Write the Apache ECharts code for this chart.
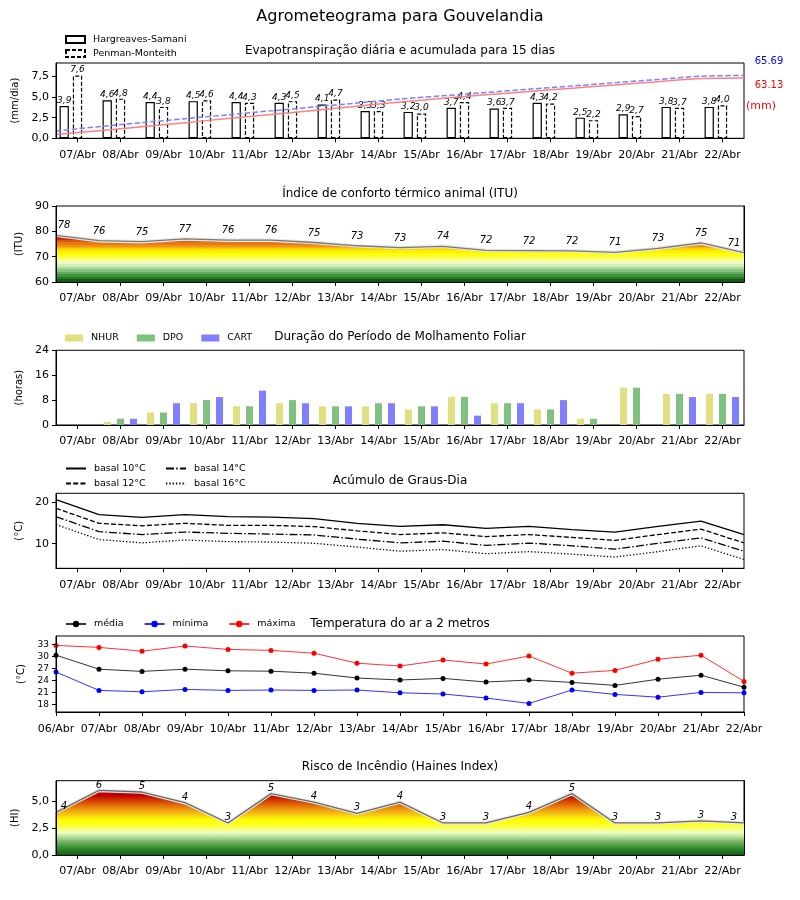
<!DOCTYPE html>
<html><head><meta charset="utf-8">
<script src="https://cdn.jsdelivr.net/npm/echarts@6/dist/echarts.min.js"></script>
<style>html,body{margin:0;padding:0;background:#fff}#c{width:800px;height:900px}</style>
</head><body><div id="c"></div>
<script>
// ---------- DATA ----------
const daysFull = ['06/Abr','07/Abr','08/Abr','09/Abr','10/Abr','11/Abr','12/Abr','13/Abr','14/Abr','15/Abr','16/Abr','17/Abr','18/Abr','19/Abr','20/Abr','21/Abr','22/Abr'];
const daysMid = daysFull.slice(1);

// Evapotranspiração diária (mm/dia)
const etHS = [3.9,4.6,4.4,4.5,4.4,4.3,4.1,3.3,3.2,3.7,3.6,4.3,2.5,2.9,3.8,3.8];
const etPM = [7.6,4.8,3.8,4.6,4.3,4.5,4.7,3.3,3.0,4.4,3.7,4.2,2.2,2.7,3.7,4.0];
// acumulada (mm)
const cumHS = [3.9,8.0,12.2,16.4,20.6,24.9,29.2,33.6,37.9,41.9,45.5,49.0,52.4,55.8,59.2,62.6,63.13];
const cumPM = [7.6,12.2,16.4,20.5,24.6,28.7,32.8,36.9,41.1,44.5,47.9,51.4,54.7,58.2,61.6,65.0,65.69];
const cumTotals = ['65.69','63.13'];

// ITU
const itu = [78.4,76.3,75.9,77.0,76.5,76.5,75.6,74.3,73.6,74.1,72.5,72.4,72.3,71.7,73.3,75.4,71.6];
const ituLabels = ['78','76','75','77','76','76','75','73','73','74','72','72','72','71','73','75','71'];

// Molhamento foliar (horas)
const nhur = [0,1,4,7,6,7,6,6,5,9,7,5,2,12,10,10];
const dpo  = [0,2,4,8,6,8,6,7,6,9,7,5,2,12,10,10];
const cart = [0,2,7,9,11,7,6,7,6,3,7,8,0,0,9,9];

// Graus-dia
const gd10 = [20.6,17.0,16.3,17.0,16.5,16.4,16.0,14.9,14.15,14.55,13.7,14.15,13.4,12.8,14.15,15.4,12.2];
const gd12 = [18.5,14.9,14.3,14.9,14.4,14.4,14.1,13.1,12.2,12.6,11.7,12.2,11.5,10.8,12.2,13.5,10.2];
const gd14 = [16.5,12.9,12.2,12.8,12.5,12.3,12.1,11.1,10.2,10.6,9.6,10.15,9.5,8.7,10.1,11.4,8.2];
const gd16 = [14.6,11.0,10.2,10.9,10.5,10.4,10.1,9.2,8.2,8.6,7.6,8.1,7.5,6.8,8.1,9.5,6.2];

// Temperatura (°C)
const tMed = [30.3,26.8,26.25,26.8,26.4,26.3,25.8,24.6,24.1,24.5,23.6,24.1,23.5,22.75,24.3,25.3,22.3];
const tMin = [26.1,21.5,21.15,21.75,21.5,21.6,21.5,21.6,20.9,20.6,19.6,18.25,21.6,20.5,19.8,21.0,20.9];
const tMax = [32.75,32.25,31.3,32.6,31.75,31.5,30.8,28.3,27.6,29.1,28.1,30.1,25.8,26.5,29.3,30.3,23.75];

// Haines
const haines = [4.0,6.05,5.9,4.9,3.0,5.75,4.95,3.9,4.95,3.0,3.0,4.0,5.75,3.0,3.0,3.2,3.0];
const hainesLabels = ['4','6','5','4','3','5','4','3','4','3','3','4','5','3','3','3','3'];

// tick labels
const ticksET = [0,2.5,5,7.5];
const ticksITU = [60,70,80,90];
const ticksMol = [0,8,16,24];
const ticksGD = [10,20];
const ticksT = [18,21,24,27,30,33];
const ticksHI = [0,2.5,5];

// ---------- STYLE / LAYOUT ----------
const FONT = 'DejaVu Sans';
const comma = v => Number(v).toFixed(1).replace('.', ',');
const G = [
  {top:63, h:75.3},{top:206, h:76},{top:350.3, h:74.7},{top:493.3, h:75},{top:636, h:76},{top:780.7, h:74.3}
];
const grids = G.map(g => ({left:56, top:g.top, width:688, height:g.h, show:true, borderColor:'#000', borderWidth:1, backgroundColor:'transparent', containLabel:false}));

const axisLine = {show:true, lineStyle:{color:'#000', width:1}};
const lbl = {color:'#000', fontSize:11, fontFamily:FONT};

function xMid(gi){
  return {type:'category', gridIndex:gi, data:daysMid, boundaryGap:true, axisLine, z:10,
    axisTick:{show:true, length:4, alignWithLabel:true, interval:0, lineStyle:{color:'#000'}},
    axisLabel:{...lbl, interval:0, margin:11}, splitLine:{show:false}};
}
function xFull(gi, show){
  return {type:'category', gridIndex:gi, data:daysFull, boundaryGap:false, show:!!show, axisLine, z:10,
    axisTick:{show:true, length:4, interval:0, lineStyle:{color:'#000'}},
    axisLabel:{...lbl, interval:0, margin:12}, splitLine:{show:false}};
}
function yVal(gi, min, max, ticks, name, nameGap, fmt, fs){
  return {type:'value', gridIndex:gi, min, max, axisLine, z:10,
    axisTick:{show:true, length:4, customValues:ticks, lineStyle:{color:'#000'}},
    axisLabel:{...lbl, fontSize:fs||11, customValues:ticks, margin:7, formatter: fmt || (v=>String(v))},
    splitLine:{show:false}, name, nameLocation:'middle', nameGap,
    nameTextStyle:{fontSize:10, fontFamily:FONT, color:'#000'}};
}
// right frame line drawn above the fills
function frameAxes(gi){
  return {type:'value', gridIndex:gi, position:'right', min:0, max:1, z:10, axisLine, axisTick:{show:false}, axisLabel:{show:false}, splitLine:{show:false}};
}

function bands(list, min, max){
  const stops = [];
  for (let i=0;i<list.length-1;i++){
    const a=(list[i][0]-min)/(max-min), b=(list[i+1][0]-min)/(max-min);
    stops.push({offset:Math.max(0,a), color:list[i][1]});
    stops.push({offset:Math.min(1,b), color:list[i][1]});
  }
  return stops;
}
const ituBands = [[60,'#0f5f0f'],[61,'#267a26'],[62,'#409440'],[63,'#62ab5e'],[64,'#88c47c'],[65,'#aed9a0'],[66,'#d2edbc'],[67,'#eaf8c4'],[68,'#f6fd9c'],[69,'#fcff58'],[70,'#ffff14'],[71.5,'#ffef00'],[72.5,'#fcd200'],[73.3,'#f6b010'],[74,'#f09418'],[74.8,'#e87810'],[75.6,'#de5808'],[76.4,'#d02c00'],[77.2,'#c40000'],[90,'#c40000']];
const ituGrad = new echarts.graphic.LinearGradient(0, G[1].top+G[1].h, 0, G[1].top, bands(ituBands,60,90), true);

const hiMax = 6.96;
const hiStops = [[0,'#0d5e0d'],[0.6,'#2f8a2f'],[1.2,'#70b060'],[1.7,'#b8e0a0'],[2.1,'#eeffc0'],[2.5,'#f8ff70'],[2.8,'#ffff20'],[3.3,'#ffff00'],[3.7,'#f8d010'],[4.2,'#f0a010'],[4.7,'#e06808'],[5.2,'#d03000'],[5.6,'#c00000'],[6.96,'#b00000']].map(s=>({offset:s[0]/hiMax, color:s[1]}));
const hiGrad = new echarts.graphic.LinearGradient(0, G[5].top+G[5].h, 0, G[5].top, hiStops, true);

function labelled(vals){
  return vals.map((v,i)=>{
    const it = {value:v};
    if (i===0) it.label = {offset:[8,0]};
    if (i===vals.length-1) it.label = {offset:[-10,0]};
    return it;
  });
}
const valLabel = (labels, dist) => ({show:true, position:'top', distance:dist, color:'#000', fontSize:10, fontStyle:'italic', fontFamily:FONT, formatter:p=>labels[p.dataIndex]});

const barLabel = {show:true, position:'top', distance:1, color:'#000', fontSize:9, fontStyle:'italic', fontFamily:FONT, formatter:p=>comma(p.value)};

const titles = [
  ['Agrometeograma para Gouvelandia', 17, 16],
  ['Evapotranspiração diária e acumulada para 15 dias', 51, 12],
  ['Índice de conforto térmico animal (ITU)', 194, 12],
  ['Duração do Período de Molhamento Foliar', 337, 12],
  ['Acúmulo de Graus-Dia', 481, 12],
  ['Temperatura do ar a 2 metros', 624, 12],
  ['Risco de Incêndio (Haines Index)', 767, 12]
];
const graphics = titles.map(t=>({type:'text', x:400, y:t[1], silent:true,
  style:{text:t[0], fill:'#000', fontSize:t[2], fontFamily:FONT, align:'center', verticalAlign:'middle'}}));
graphics.push({type:'text', x:769, y:61, style:{text:cumTotals[0], fill:'#0000ff', fontSize:10, fontFamily:FONT, align:'center', verticalAlign:'middle'}});
graphics.push({type:'text', x:769, y:85, style:{text:cumTotals[1], fill:'#ff0000', fontSize:10, fontFamily:FONT, align:'center', verticalAlign:'middle'}});
graphics.push({type:'text', x:761, y:106, style:{text:'(mm)', fill:'#ff0000', fontSize:11, fontFamily:FONT, align:'center', verticalAlign:'middle'}});

const legText = {fontSize:9.5, fontFamily:FONT, color:'#000', padding:[0,0,0,3]};

const option = {
  animation:false,
  backgroundColor:'#fff',
  textStyle:{fontFamily:FONT},
  graphic:graphics,
  grid:grids,
  legend:[
    {data:[{name:'Hargreaves-Samani'},{name:'Penman-Monteith', itemStyle:{borderType:[4,2]}}], icon:'rect', orient:'vertical', left:65, top:34, padding:0, itemWidth:19, itemHeight:7, itemGap:3, textStyle:{...legText, lineHeight:11}, selectedMode:false},
    {data:['NHUR','DPO','CART'], icon:'rect', orient:'horizontal', left:65, top:333, padding:0, itemWidth:18, itemHeight:7, itemGap:18, textStyle:legText, selectedMode:false},
    {data:['basal 10°C','basal 12°C'], orient:'vertical', left:65, top:463, padding:0, itemWidth:20, itemHeight:8, itemGap:4, itemStyle:{opacity:0}, textStyle:{...legText, lineHeight:11}, selectedMode:false},
    {data:['basal 14°C','basal 16°C'], orient:'vertical', left:165, top:463, padding:0, itemWidth:20, itemHeight:8, itemGap:4, itemStyle:{opacity:0}, textStyle:{...legText, lineHeight:11}, selectedMode:false},
    {data:['média','mínima','máxima'], orient:'horizontal', left:65, top:619, padding:0, itemWidth:20, itemHeight:8, itemGap:20, textStyle:legText, selectedMode:false}
  ],
  xAxis:[
    xMid(0), xFull(0,false),
    xMid(1), xFull(1,false),
    xMid(2),
    xMid(3), xFull(3,false),
    xFull(4,true),
    xMid(5), xFull(5,false)
  ],
  yAxis:[
    yVal(0,0,9.12,ticksET,'(mm/dia)',30,comma),
    {type:'value', gridIndex:0, min:0, max:78.8, show:false, splitLine:{show:false}},
    yVal(1,60,90,ticksITU,'(ITU)',27),
    yVal(2,0,24,ticksMol,'(horas)',27),
    yVal(3,4.1,22.1,ticksGD,'(°C)',27),
    yVal(4,16.1,35.1,ticksT,'(°C)',25,null,9),
    yVal(5,0,hiMax,ticksHI,'(HI)',31,comma),
    frameAxes(1), frameAxes(5)
  ],
  series:[
    // panel 1
    {name:'Hargreaves-Samani', type:'bar', xAxisIndex:0, yAxisIndex:0, data:etHS, barWidth:9.3, barGap:'43%',
      itemStyle:{color:'#fff', borderColor:'#000', borderWidth:1.2}, label:barLabel},
    {name:'Penman-Monteith', type:'bar', xAxisIndex:0, yAxisIndex:0, data:etPM, barWidth:9.3, barGap:'43%',
      itemStyle:{color:'#fff', borderColor:'#000', borderWidth:1.2, borderType:[4,2]}, label:barLabel},
    {name:'_pad', type:'bar', xAxisIndex:0, yAxisIndex:0, data:daysMid.map(()=>'-'), barWidth:9.3, barGap:'43%', itemStyle:{color:'transparent'}},
    {name:'acumPM', type:'line', xAxisIndex:1, yAxisIndex:1, data:cumPM, symbol:'none', smooth:0.3, z:5,
      lineStyle:{color:'#8080ff', width:1.5, type:[5.5,2.4]}},
    {name:'acumHS', type:'line', xAxisIndex:1, yAxisIndex:1, data:cumHS, symbol:'none', smooth:0.3, z:5,
      lineStyle:{color:'#ff8080', width:1.5}},
    // panel 2 ITU
    {name:'ituArea', type:'line', xAxisIndex:3, yAxisIndex:2, data:itu, symbol:'none', lineStyle:{width:0},
      areaStyle:{color:ituGrad, origin:'start', opacity:1}},
    {name:'ituHalo', type:'line', xAxisIndex:3, yAxisIndex:2, data:itu, symbol:'none', lineStyle:{color:'#e8e8e8', width:3.5}},
    {name:'ITU', type:'line', xAxisIndex:3, yAxisIndex:2, data:labelled(itu), symbol:'circle', symbolSize:1, showSymbol:true,
      itemStyle:{color:'rgba(0,0,0,0)'}, lineStyle:{color:'#7a7a7a', width:1.3}, label:valLabel(ituLabels,4)},
    // panel 3
    {name:'NHUR', type:'bar', xAxisIndex:4, yAxisIndex:3, data:nhur, barWidth:7, barGap:'86%', itemStyle:{color:'#e0e080'}},
    {name:'DPO', type:'bar', xAxisIndex:4, yAxisIndex:3, data:dpo, barWidth:7, barGap:'86%', itemStyle:{color:'#80c080'}},
    {name:'CART', type:'bar', xAxisIndex:4, yAxisIndex:3, data:cart, barWidth:7, barGap:'86%', itemStyle:{color:'#8080ff'}},
    // panel 4
    {name:'basal 10°C', type:'line', xAxisIndex:6, yAxisIndex:4, data:gd10, symbol:'none', lineStyle:{color:'#000', width:1.3, type:'solid'}, itemStyle:{color:'#000'}},
    {name:'basal 12°C', type:'line', xAxisIndex:6, yAxisIndex:4, data:gd12, symbol:'none', lineStyle:{color:'#000', width:1.3, type:[5,2.2]}, itemStyle:{color:'#000'}},
    {name:'basal 14°C', type:'line', xAxisIndex:6, yAxisIndex:4, data:gd14, symbol:'none', lineStyle:{color:'#000', width:1.3, type:[8,2.2,1.5,2.2]}, itemStyle:{color:'#000'}},
    {name:'basal 16°C', type:'line', xAxisIndex:6, yAxisIndex:4, data:gd16, symbol:'none', lineStyle:{color:'#000', width:1.3, type:[1.3,2]}, itemStyle:{color:'#000'}},
    // panel 5
    {name:'média', type:'line', xAxisIndex:7, yAxisIndex:5, data:tMed, symbol:'circle', symbolSize:5, lineStyle:{color:'#333', width:1}, itemStyle:{color:'#000'}},
    {name:'mínima', type:'line', xAxisIndex:7, yAxisIndex:5, data:tMin, symbol:'circle', symbolSize:5, lineStyle:{color:'#3333ff', width:1}, itemStyle:{color:'#0000ff'}},
    {name:'máxima', type:'line', xAxisIndex:7, yAxisIndex:5, data:tMax, symbol:'circle', symbolSize:5, lineStyle:{color:'#ff3333', width:1}, itemStyle:{color:'#ff0000'}},
    // panel 6
    {name:'hiArea', type:'line', xAxisIndex:9, yAxisIndex:6, data:haines, symbol:'none', lineStyle:{width:0},
      areaStyle:{color:hiGrad, origin:'start', opacity:1}},
    {name:'hiHalo', type:'line', xAxisIndex:9, yAxisIndex:6, data:haines, symbol:'none', lineStyle:{color:'#e8e8e8', width:3.5}},
    {name:'Haines', type:'line', xAxisIndex:9, yAxisIndex:6, data:labelled(haines), symbol:'circle', symbolSize:1, showSymbol:true,
      itemStyle:{color:'rgba(0,0,0,0)'}, lineStyle:{color:'#6a6a6a', width:1.3}, label:valLabel(hainesLabels,0)}
  ]
};
const chart = echarts.init(document.getElementById('c'), null, {renderer:'canvas', width:800, height:900});
chart.setOption(option);
</script>
</body></html>
